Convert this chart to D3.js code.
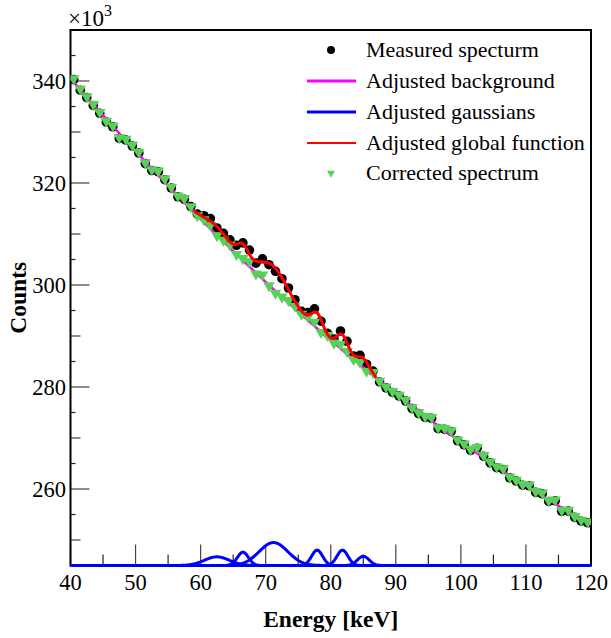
<!DOCTYPE html>
<html>
<head>
<meta charset="utf-8">
<script src="https://cdn.jsdelivr.net/npm/d3@7"></script>
<style>
  body { margin: 0; background: #fff; }
  text { font-family: "Liberation Serif", "Times New Roman", serif; }
</style>
</head>
<body>
<svg id="chart" width="611" height="638"></svg>
<script>
// bin centres [keV]
const energy = [40.5, 41.5, 42.5, 43.5, 44.5, 45.5, 46.5, 47.5, 48.5, 49.5,
  50.5, 51.5, 52.5, 53.5, 54.5, 55.5, 56.5, 57.5, 58.5, 59.5,
  60.5, 61.5, 62.5, 63.5, 64.5, 65.5, 66.5, 67.5, 68.5, 69.5,
  70.5, 71.5, 72.5, 73.5, 74.5, 75.5, 76.5, 77.5, 78.5, 79.5,
  80.5, 81.5, 82.5, 83.5, 84.5, 85.5, 86.5, 87.5, 88.5, 89.5,
  90.5, 91.5, 92.5, 93.5, 94.5, 95.5, 96.5, 97.5, 98.5, 99.5,
  100.5, 101.5, 102.5, 103.5, 104.5, 105.5, 106.5, 107.5, 108.5, 109.5,
  110.5, 111.5, 112.5, 113.5, 114.5, 115.5, 116.5, 117.5, 118.5, 119.5];

// counts, x10^3
const measured = [340.27, 338.20, 336.75, 335.21, 333.67, 331.95, 331.03, 328.73, 328.43, 327.24,
  325.87, 323.80, 322.44, 322.19, 320.65, 319.02, 317.30, 316.79, 315.38, 313.89,
  313.59, 313.02, 311.18, 310.12, 308.86, 307.79, 308.26, 306.84, 304.28, 305.14,
  303.98, 302.69, 301.24, 299.41, 297.11, 294.84, 294.59, 295.31, 292.90, 290.53,
  289.40, 290.98, 288.96, 286.08, 286.22, 284.46, 283.13, 280.99, 279.83, 278.93,
  278.23, 277.24, 275.76, 274.79, 274.03, 273.87, 271.83, 271.70, 271.28, 269.46,
  268.66, 267.56, 267.98, 266.40, 265.13, 264.18, 263.83, 262.19, 261.56, 260.74,
  260.63, 259.33, 259.04, 257.56, 257.69, 255.62, 255.67, 254.43, 253.69, 253.37];

const corrected = [340.27, 338.20, 336.75, 335.21, 333.67, 331.95, 331.03, 328.73, 328.43, 327.24,
  325.87, 323.80, 322.44, 322.19, 320.65, 319.02, 317.30, 316.79, 315.19, 313.40,
  312.61, 311.54, 309.48, 308.62, 307.68, 305.84, 305.01, 304.40, 301.99, 301.79,
  299.70, 298.23, 297.46, 296.80, 295.65, 294.11, 293.57, 292.55, 290.54, 289.94,
  288.44, 288.16, 286.78, 285.22, 284.66, 282.92, 282.68, 280.95, 279.83, 278.93,
  278.23, 277.24, 275.76, 274.79, 274.03, 273.87, 271.83, 271.70, 271.28, 269.46,
  268.66, 267.56, 267.98, 266.40, 265.13, 264.18, 263.83, 262.19, 261.56, 260.74,
  260.63, 259.33, 259.04, 257.56, 257.69, 255.62, 255.67, 254.43, 253.69, 253.37];

// adjusted background: quadratic in (E - 40 keV), x10^3 counts
const bgCoef = [340.5, -1.472, 0.00473];
// adjusted gaussians
const gaussCenter = [62.5, 66.5, 71.2, 77.9, 81.8, 85.0];
const gaussAmp = [1.7, 2.6, 4.5, 3.0, 3.0, 1.8];
const gaussSigma = [1.9, 0.85, 2.2, 0.85, 0.85, 0.9];
const fitRange = [59, 87];

const xTicks = [40, 50, 60, 70, 80, 90, 100, 110, 120];
const yTicks = [260, 280, 300, 320, 340];
const legendLabels = ["Measured specturm", "Adjusted background", "Adjusted gaussians",
  "Adjusted global function", "Corrected spectrum"];

const width = 611, height = 638;
const margin = { left: 70.5, right: 20, top: 30, bottom: 72.5 };
const xDomain = [40, 120], yDomain = [245, 350];

const svg = d3.select("#chart");

const x = d3.scaleLinear().domain(xDomain).range([margin.left, width - margin.right]);
const y = d3.scaleLinear().domain(yDomain).range([height - margin.bottom, margin.top]);

svg.append("defs").append("clipPath").attr("id", "plot-clip")
  .append("rect")
  .attr("x", x(xDomain[0])).attr("y", y(yDomain[1]))
  .attr("width", x(xDomain[1]) - x(xDomain[0]))
  .attr("height", y(yDomain[0]) - y(yDomain[1]) + 2);

const background = e => bgCoef[0] + bgCoef[1] * (e - 40) + bgCoef[2] * (e - 40) * (e - 40);
const gauss = (i, e) => gaussAmp[i] * Math.exp(-((e - gaussCenter[i]) ** 2) / (2 * gaussSigma[i] ** 2));
const globalFn = e => background(e) + d3.sum(gaussCenter, (c, i) => gauss(i, e));

const fullGrid = d3.range(xDomain[0], xDomain[1] + 0.001, 0.1);
const fitGrid = d3.range(fitRange[0], fitRange[1] + 0.001, 0.1);

const line = d3.line().x(d => d[0]).y(d => d[1]);

// ticks
const axisG = svg.append("g");
const xMinor = d3.range(45, 120, 10);
const yMid = d3.range(250, 351, 20);
const yMinor = d3.range(245, 351, 10);
const yB = y(yDomain[0]);

axisG.selectAll(".xmaj").data(xTicks).join("line")
  .attr("x1", d => x(d)).attr("x2", d => x(d))
  .attr("y1", yB).attr("y2", yB - 21)
  .attr("stroke", "#444").attr("stroke-width", 1.2);
axisG.selectAll(".xmin").data(xMinor).join("line")
  .attr("x1", d => x(d)).attr("x2", d => x(d))
  .attr("y1", yB).attr("y2", yB - 11)
  .attr("stroke", "#222").attr("stroke-width", 1.2);

const xL = x(xDomain[0]);
axisG.selectAll(".ymaj").data(yTicks).join("line")
  .attr("x1", xL).attr("x2", xL + 19)
  .attr("y1", d => y(d)).attr("y2", d => y(d))
  .attr("stroke", "#444").attr("stroke-width", 1.2);
axisG.selectAll(".ymid").data(yMid).join("line")
  .attr("x1", xL).attr("x2", xL + 10)
  .attr("y1", d => y(d)).attr("y2", d => y(d))
  .attr("stroke", "#444").attr("stroke-width", 1.2);
axisG.selectAll(".ymin").data(yMinor).join("line")
  .attr("x1", xL).attr("x2", xL + 5)
  .attr("y1", d => y(d)).attr("y2", d => y(d))
  .attr("stroke", "#222").attr("stroke-width", 1.2);

// frame
svg.append("rect")
  .attr("x", x(xDomain[0])).attr("y", y(yDomain[1]))
  .attr("width", x(xDomain[1]) - x(xDomain[0]))
  .attr("height", y(yDomain[0]) - y(yDomain[1]))
  .attr("fill", "none").attr("stroke", "#000").attr("stroke-width", 2);

// tick labels
svg.append("g").selectAll("text").data(xTicks).join("text")
  .attr("x", d => x(d)).attr("y", 590)
  .attr("text-anchor", "middle").attr("font-size", 22.5)
  .text(d => d);
svg.append("g").selectAll("text").data(yTicks).join("text")
  .attr("x", 66).attr("y", d => y(d) + 7.5)
  .attr("text-anchor", "end").attr("font-size", 22.5)
  .text(d => d);

// exponent
const expo = svg.append("text").attr("x", 68).attr("y", 26).attr("font-size", 23);
expo.append("tspan").text("\u00d710");
expo.append("tspan").attr("dy", -10).attr("font-size", 16).text("3");

// axis titles
svg.append("text")
  .attr("x", (x(xDomain[0]) + x(xDomain[1])) / 2).attr("y", 627)
  .attr("text-anchor", "middle").attr("font-size", 23.5).attr("font-weight", "bold")
  .text("Energy [keV]");
svg.append("text")
  .attr("transform", `translate(26,${(y(yDomain[0]) + y(yDomain[1])) / 2}) rotate(-90)`)
  .attr("text-anchor", "middle").attr("font-size", 23.5).attr("font-weight", "bold")
  .text("Counts");

const plot = svg.append("g").attr("clip-path", "url(#plot-clip)");

// measured spectrum
plot.append("g").selectAll("circle").data(energy).join("circle")
  .attr("cx", d => x(d)).attr("cy", (d, i) => y(measured[i]))
  .attr("r", 4.8).attr("fill", "#000");

// adjusted background
plot.append("path")
  .attr("d", line(fullGrid.map(e => [x(e), y(background(e))])))
  .attr("fill", "none").attr("stroke", "#ff00ff").attr("stroke-width", 2.5);

// corrected spectrum
const tri = d3.symbol().type(d3.symbolTriangle).size(58);
plot.append("g").selectAll("path").data(energy).join("path")
  .attr("d", tri)
  .attr("transform", (d, i) => `translate(${x(d)},${y(corrected[i]) - 1}) rotate(180)`)
  .attr("fill", "#57d257");

// adjusted global function
plot.append("path")
  .attr("d", line(fitGrid.map(e => [x(e), y(globalFn(e))])))
  .attr("fill", "none").attr("stroke", "#ff0000").attr("stroke-width", 3);

// adjusted gaussians, drawn from the bottom of the frame
gaussCenter.forEach((c, i) => {
  plot.append("path")
    .attr("d", line(fullGrid.map(e => [x(e), y(yDomain[0] + gauss(i, e))])))
    .attr("fill", "none").attr("stroke", "#0000ff").attr("stroke-width", 3);
});

// legend
const rowY = [50, 81, 112, 143, 173];
const leg = svg.append("g");
legendLabels.forEach((label, i) => {
  const cy = rowY[i];
  leg.append("text").attr("x", 366).attr("y", cy + 7).attr("font-size", 22).text(label);
  if (i === 0) {
    leg.append("circle").attr("cx", 331).attr("cy", cy).attr("r", 4).attr("fill", "#000");
  } else if (i === 4) {
    leg.append("path").attr("d", d3.symbol().type(d3.symbolTriangle).size(28))
      .attr("transform", `translate(331,${cy}) rotate(180)`).attr("fill", "#57d257");
  } else {
    const col = ["", "#ff00ff", "#0000ff", "#ff0000"][i];
    leg.append("line").attr("x1", 307).attr("x2", 356).attr("y1", cy).attr("y2", cy)
      .attr("stroke", col).attr("stroke-width", i === 3 ? 2 : 3);
  }
});
</script>
</body>
</html>
